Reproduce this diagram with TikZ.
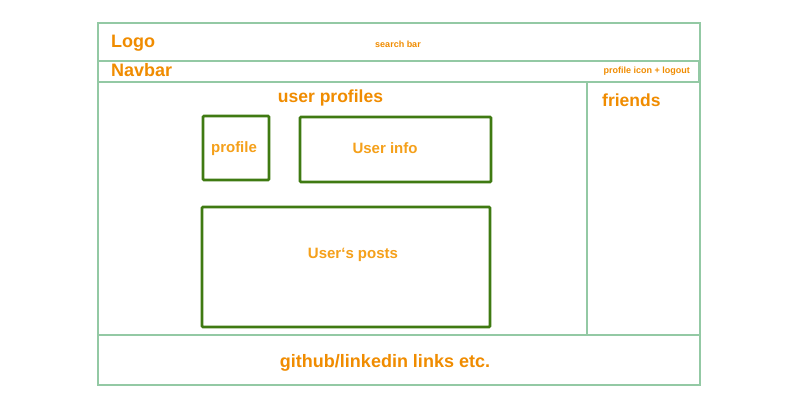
\documentclass[tikz,border=0pt]{standalone}
\usepackage{fontspec}
\setmainfont{Liberation Sans}
\definecolor{frameg}{HTML}{93C9A4}
\definecolor{darkg}{HTML}{3F7A12}
\definecolor{heador}{HTML}{F08C00}
\definecolor{boxor}{HTML}{F5A01A}
\begin{document}
\begin{tikzpicture}[x=1pt,y=-1pt,
  frame/.style={draw=frameg,line width=1.2pt},
  wbox/.style={draw=darkg,line width=2.6pt,rounded corners=1pt,inner sep=0pt},
  head/.style={text=heador,font=\bfseries\fontsize{18}{20}\selectfont,inner sep=0pt},
  small/.style={text=heador,font=\bfseries\fontsize{9}{10}\selectfont,inner sep=0pt},
  boxtext/.style={text=boxor,font=\bfseries\fontsize{15}{17}\selectfont,inner sep=0pt}]
\useasboundingbox (0,0) rectangle (800,400);
\fill[white] (0,0) rectangle (800,400);
% frame
\coordinate (tl) at (98,23);
\coordinate (br) at (700,385);
\draw[frame] (tl) rectangle (br);
\draw[frame] (98,61) rectangle (699,82);
\draw[frame] (98,335) -- (700,335);
\draw[frame] (587,82) -- (587,335);
% header texts
\node[head,anchor=west] (logo) at (111,43.5) {Logo};
\node[small] (search) at (398,44) {search bar};
\node[head,anchor=west] (navbar) at (111,70) {Navbar};
\node[small,anchor=east] (picon) at (690,71.5) {profile icon + logout};
\node[head,font=\bfseries\fontsize{17.5}{20}\selectfont] (uprof) at (330.5,98) {user profiles};
\node[head,anchor=west,font=\bfseries\fontsize{17.5}{20}\selectfont] (friends) at (602,100) {friends};
% boxes
\node[wbox,minimum width=66pt,minimum height=64pt] (profile) at (236,148) {};
\node[boxtext] (profilet) at (234,148.5) {profile};
\node[wbox,minimum width=191pt,minimum height=65pt] (uinfo) at (395.5,149.5) {};
\node[boxtext] (uinfot) at (385,148) {User info};
\node[wbox,minimum width=288pt,minimum height=120pt] (posts) at (346,267) {};
\node[boxtext] (postst) at (353,254.5) {User‘s posts};
% footer
\node[head] (footer) at (385,363) {github/linkedin links etc.};
\end{tikzpicture}
\end{document}
